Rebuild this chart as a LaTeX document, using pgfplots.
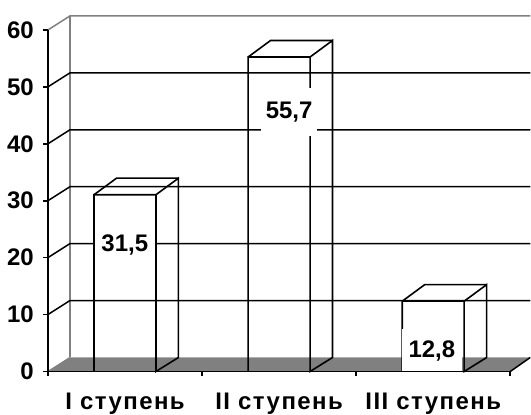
\documentclass[border=0pt]{standalone}
\usepackage{pgfplots}
\pgfplotsset{compat=1.18}
\usepackage{fontspec}
\setmainfont{Liberation Sans}
\definecolor{floorgray}{RGB}{128,128,128}
\definecolor{edgegray}{RGB}{128,128,128}
\definecolor{lightedge}{RGB}{175,175,175}
\begin{document}
\begin{tikzpicture}
\begin{axis}[
  scale only axis, width=463pt, height=342pt,
  xmin=0, xmax=3, ymin=0, ymax=60,
  clip=false,
  axis lines*=left,
  axis line style={black, line width=1.6pt},
  axis on top,
  ytick={0,10,...,60},
  tick align=outside,
  major tick length=5pt,
  ytick style={draw=none},
  xtick={0.5,1.5,2.5},
  xticklabels={I ступень, II ступень, III ступень},
  xtick style={draw=none},
  /pgf/number format/assume math mode=true,
  yticklabel style={font={\bfseries\fontsize{24}{24}\selectfont}, inner sep=0pt, xshift=-9pt},
  xticklabel style={font={\bfseries\fontsize{24}{24}\selectfont\addfontfeature{LetterSpace=6}}, inner sep=0pt, anchor=north, yshift=-16.5pt},
]
% bounding box of the whole picture
\addplot[draw=none, forget plot] coordinates {(-0.31102,-7.3684) (3.12959,65.2632)};
% floor
\addplot[fill=floorgray, draw=none, forget plot] coordinates {(0,0) (3,0) (3.1296,2.456) (0.1425,2.456)} -- cycle;
\addplot[edgegray, line width=1.2pt, forget plot] coordinates {(0,0) (0.1425,2.456)};
\addplot[lightedge, line width=1.2pt, forget plot] coordinates {(0.1425,2.456) (3.1296,2.456)};
\addplot[black, line width=1.5pt, forget plot] coordinates {(3,0) (3.1296,2.456)};
% back wall left edge and top
\addplot[edgegray, line width=1.5pt, forget plot] coordinates {(0.1425,2.456) (0.1425,62.456)};
\addplot[edgegray, line width=1.5pt, forget plot] coordinates {(0,60) (0.1425,62.456) (3.1296,62.456)};
% gridlines
\addplot[black, line width=1.5pt, forget plot] coordinates {(0,10) (0.1425,12.456) (3.1296,12.456)};
\addplot[black, line width=1.5pt, forget plot] coordinates {(0,20) (0.1425,22.456) (3.1296,22.456)};
\addplot[black, line width=1.5pt, forget plot] coordinates {(0,30) (0.1425,32.456) (3.1296,32.456)};
\addplot[black, line width=1.5pt, forget plot] coordinates {(0,40) (0.1425,42.456) (3.1296,42.456)};
\addplot[black, line width=1.5pt, forget plot] coordinates {(0,50) (0.1425,52.456) (3.1296,52.456)};
% y ticks
\addplot[black, line width=1.6pt, forget plot] coordinates {(-0.0324,0) (0,0)};
\addplot[black, line width=1.6pt, forget plot] coordinates {(-0.0324,10) (0,10)};
\addplot[black, line width=1.6pt, forget plot] coordinates {(-0.0324,20) (0,20)};
\addplot[black, line width=1.6pt, forget plot] coordinates {(-0.0324,30) (0,30)};
\addplot[black, line width=1.6pt, forget plot] coordinates {(-0.0324,40) (0,40)};
\addplot[black, line width=1.6pt, forget plot] coordinates {(-0.0324,50) (0,50)};
\addplot[black, line width=1.6pt, forget plot] coordinates {(-0.0324,60) (0,60)};
% x ticks between categories
\addplot[black, line width=1.6pt, forget plot] coordinates {(0,0) (0,-0.877)};
\addplot[black, line width=1.6pt, forget plot] coordinates {(1,0) (1,-0.877)};
\addplot[black, line width=1.6pt, forget plot] coordinates {(2,0) (2,-0.877)};
\addplot[black, line width=1.6pt, forget plot] coordinates {(3,0) (3,-0.877)};
% bar 1: 31.5
\addplot[black, line width=1.6pt, forget plot] coordinates {(0.2991,0) (0.2991,31.05) (0.7009,31.05) (0.7009,0) (0.8467,2.456) (0.8467,33.956) (0.7009,31.05)};
\addplot[black, line width=1.6pt, forget plot] coordinates {(0.2991,31.05) (0.4449,33.956) (0.8467,33.956)};
% bar 2: 55.7
\addplot[black, line width=1.6pt, forget plot] coordinates {(1.2991,0) (1.2991,55.25) (1.7009,55.25) (1.7009,0) (1.8467,2.456) (1.8467,58.156) (1.7009,55.25)};
\addplot[black, line width=1.6pt, forget plot] coordinates {(1.2991,55.25) (1.4449,58.156) (1.8467,58.156)};
% bar 3: 12.8
\addplot[black, line width=1.6pt, forget plot] coordinates {(2.2991,0) (2.2991,12.35) (2.7009,12.35) (2.7009,0) (2.8467,2.456) (2.8467,15.256) (2.7009,12.35)};
\addplot[black, line width=1.6pt, forget plot] coordinates {(2.2991,12.35) (2.4449,15.256) (2.8467,15.256)};
% value labels
\node[fill=white, inner sep=0pt, minimum width=60pt, minimum height=48pt, font={\bfseries\fontsize{24}{24}\selectfont}] at (axis cs:0.4989,22.18) {31,5};
\node[fill=white, inner sep=0pt, minimum width=56pt, minimum height=48pt, font={\bfseries\fontsize{24}{24}\selectfont}] at (axis cs:1.5648,45.53) {55,7};
\node[fill=white, inner sep=0pt, minimum width=60pt, minimum height=44pt, font={\bfseries\fontsize{24}{24}\selectfont}] at (axis cs:2.4914,3.6) {12,8};
\end{axis}
\end{tikzpicture}
\end{document}
